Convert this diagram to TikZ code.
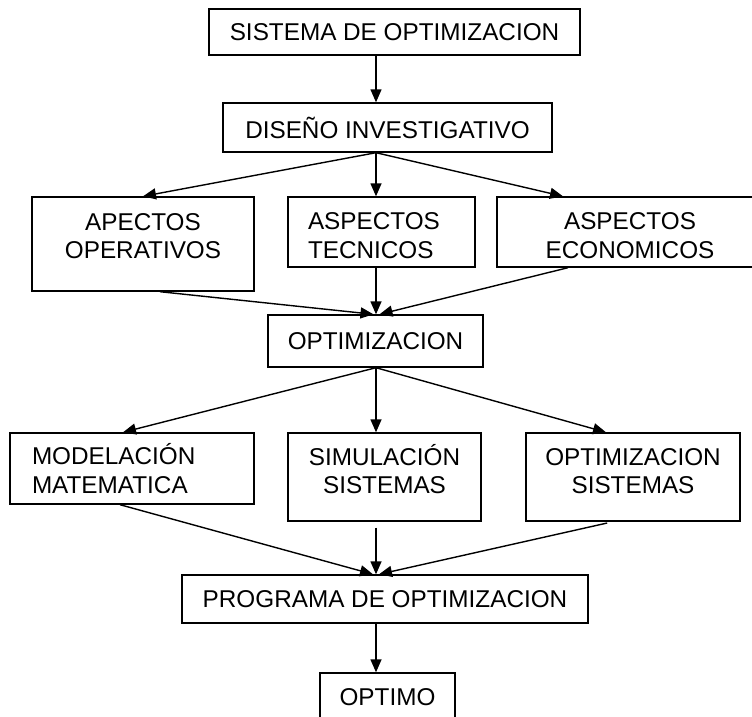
\documentclass[tikz,border=0pt]{standalone}
\usepackage{fontspec}
\setmainfont{Liberation Sans}
\usetikzlibrary{arrows.meta}
\tikzset{>={Triangle[length=13pt,width=11pt]}}
\tikzset{caja/.style={draw, line width=1.4pt, inner sep=0pt, align=center,
    font=\fontsize{24.3pt}{28.5pt}\selectfont}}

\begin{document}
\begin{tikzpicture}[x=1pt, y=-1pt, line width=1.4pt]
  \clip (0, 0) rectangle (752, 717);
  \coordinate (eje) at (376, 0);

  \node[caja, minimum width=371pt, minimum height=46pt] (sist) at (394.5, 32)
    {SISTEMA DE OPTIMIZACION};
  \node[caja, minimum width=329pt, minimum height=49pt] (disen) at (387.5, 127.5)
    {DISEÑO INVESTIGATIVO};

  \node[caja, minimum width=222pt, minimum height=94pt] (oper) at (143, 244)
    {APECTOS\\OPERATIVOS\rule[-16pt]{0pt}{16pt}};
  \node[caja, minimum width=187pt, minimum height=70pt, align=left,
    text width=147pt, inner xsep=20pt] (tecn) at (381.5, 232)
    {\rule{0pt}{24pt}ASPECTOS\\TECNICOS};
  \node[caja, minimum width=266pt, minimum height=70pt] (econ) at (630, 232)
    {\rule{0pt}{24pt}ASPECTOS\\ECONOMICOS};

  \node[caja, minimum width=215pt, minimum height=52pt] (optim) at (375.5, 341)
    {OPTIMIZACION};

  \node[caja, minimum width=244pt, minimum height=71pt, align=left,
    text width=200pt, inner xsep=22pt] (model) at (132, 468.5)
    {MODELACIÓN\\MATEMATICA};
  \node[caja, minimum width=193pt, minimum height=88pt] (simul) at (384.5, 477)
    {SIMULACIÓN\\SISTEMAS\rule[-16pt]{0pt}{16pt}};
  \node[caja, minimum width=214pt, minimum height=88pt] (optsis) at (633, 477)
    {OPTIMIZACION\\SISTEMAS\rule[-12pt]{0pt}{12pt}};

  \node[caja, minimum width=406pt, minimum height=48pt] (prog) at (385, 599)
    {PROGRAMA DE OPTIMIZACION};
  \node[caja, minimum width=135pt, minimum height=48pt] (optimo) at (387.5, 697)
    {OPTIMO};

  % conectores
  \draw[->] (sist.south -| eje) -- (disen.north -| eje);
  \draw[->] (disen.south -| eje) -- (oper.north);
  \draw[->] (disen.south -| eje) -- (tecn.north -| eje);
  \draw[->] (disen.south -| eje) -- ([xshift=-67pt]econ.north);

  \draw[->] ([xshift=17pt]oper.south) -- ([xshift=-2pt]optim.north);
  \draw[->] (tecn.south -| eje) -- (optim.north -| eje);
  \draw[->] ([xshift=-62pt]econ.south) -- ([xshift=4pt]optim.north);

  \draw[->] (optim.south -| eje) -- ([xshift=-9pt]model.north);
  \draw[->] (optim.south -| eje) -- (simul.north -| eje);
  \draw[->] (optim.south -| eje) -- ([xshift=-27pt]optsis.north);

  \draw[->] ([xshift=-12pt]model.south) -- ([xshift=-12pt]prog.north);
  \draw[->, shorten <=6pt] (simul.south -| eje) -- (prog.north -| eje);
  \draw[->, shorten <=6pt] ([xshift=-20pt]optsis.south) -- ([xshift=-6pt]prog.north);

  \draw[->] (prog.south -| eje) -- (optimo.north -| eje);
\end{tikzpicture}
\end{document}
